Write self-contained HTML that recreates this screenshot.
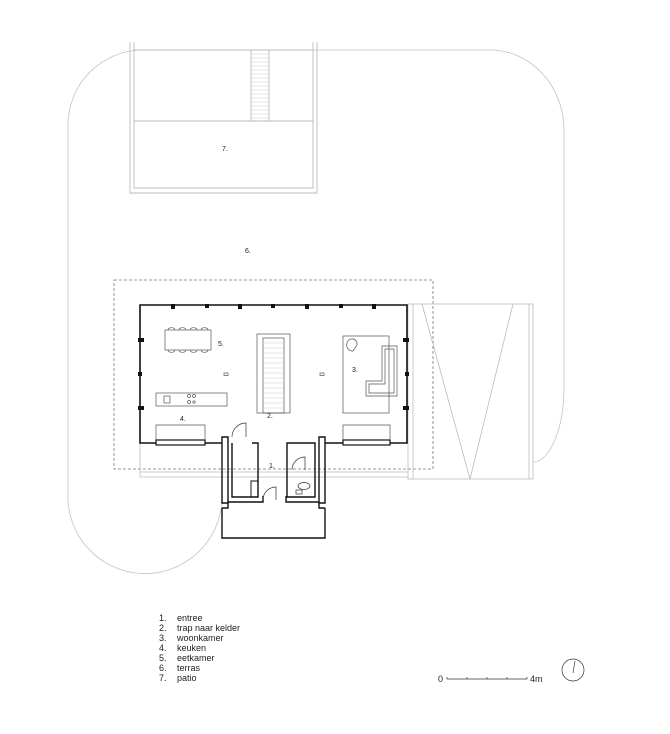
<!DOCTYPE html>
<html><head><meta charset="utf-8"><style>
html,body{margin:0;padding:0;background:#fff;}
svg{display:block;}
text{font-family:"Liberation Sans",sans-serif;fill:#222;}
</style></head><body>
<svg width="670" height="734" viewBox="0 0 670 734" xmlns="http://www.w3.org/2000/svg">
<!-- terrace outline -->
<path d="M68,493 L68,125 A75,75 0 0 1 143,50 L490,50 A74,80 0 0 1 564,130 L564,387 A31,75 0 0 1 533,462" fill="none" stroke="#c4c4c4" stroke-width="0.8"/>
<path d="M68,493 A77,77 0 0 0 222,500" fill="none" stroke="#c4c4c4" stroke-width="0.8"/>
<!-- patio -->
<g fill="none" stroke="#bbb" stroke-width="0.9">
<path d="M130,42 L130,193 L317,193 L317,42"/>
<path d="M134,42 L134,188 L313,188 L313,42"/>
<line x1="134" y1="50" x2="313" y2="50"/>
<line x1="134" y1="121" x2="313" y2="121"/>
<rect x="251" y="50" width="18" height="71"/>
</g>
<g stroke="#ccc" stroke-width="0.6">
<line x1="251" y1="54" x2="269" y2="54"/><line x1="251" y1="58" x2="269" y2="58"/><line x1="251" y1="62" x2="269" y2="62"/><line x1="251" y1="66" x2="269" y2="66"/><line x1="251" y1="70" x2="269" y2="70"/><line x1="251" y1="74" x2="269" y2="74"/><line x1="251" y1="78" x2="269" y2="78"/><line x1="251" y1="82" x2="269" y2="82"/><line x1="251" y1="86" x2="269" y2="86"/><line x1="251" y1="90" x2="269" y2="90"/><line x1="251" y1="94" x2="269" y2="94"/><line x1="251" y1="98" x2="269" y2="98"/><line x1="251" y1="102" x2="269" y2="102"/><line x1="251" y1="106" x2="269" y2="106"/><line x1="251" y1="110" x2="269" y2="110"/><line x1="251" y1="114" x2="269" y2="114"/><line x1="251" y1="118" x2="269" y2="118"/>
</g>
<text x="222" y="151" font-size="7">7.</text>
<text x="245" y="253" font-size="7">6.</text>
<!-- dashed roof -->
<rect x="114" y="280" width="319" height="189" fill="none" stroke="#777" stroke-width="0.8" stroke-dasharray="3,2"/>
<!-- pergola -->
<g fill="none" stroke="#bbb" stroke-width="0.8">
<rect x="408" y="304" width="125" height="175"/>
<line x1="413" y1="304" x2="413" y2="479"/>
<line x1="529" y1="304" x2="529" y2="479"/>
<path d="M422,304 L470,479 L513,304"/>
<line x1="140" y1="472" x2="408" y2="472"/>
<line x1="140" y1="477" x2="408" y2="477"/>
<line x1="140" y1="443" x2="140" y2="477"/>
</g>
<!-- main walls -->
<path d="M222,443 L140,443 L140,305 L407,305 L407,443 L325,443" fill="none" stroke="#111" stroke-width="1.6"/>
<g fill="#111">
<rect x="171" y="304" width="4" height="5"/><rect x="205" y="304" width="4" height="4"/><rect x="238" y="304" width="4" height="5"/><rect x="271" y="304" width="4" height="4"/><rect x="305" y="304" width="4" height="5"/><rect x="339" y="304" width="4" height="4"/><rect x="372" y="304" width="4" height="5"/>
<rect x="138" y="338" width="6" height="4"/><rect x="138" y="372" width="4" height="4"/><rect x="138" y="406" width="6" height="4"/>
<rect x="403" y="338" width="6" height="4"/><rect x="405" y="372" width="4" height="4"/><rect x="403" y="406" width="6" height="4"/>
</g>
<!-- windows -->
<g fill="none" stroke="#111">
<rect x="156" y="440" width="49" height="5" stroke-width="1.2" fill="#fff"/>
<rect x="343" y="440" width="47" height="5" stroke-width="1.2" fill="#fff"/>
</g>
<g fill="none" stroke="#555" stroke-width="0.7">
<path d="M156,440 L156,425 L205,425 L205,440"/>
<path d="M343,440 L343,425 L390,425 L390,440"/>
<rect x="165" y="330" width="46" height="20"/>
<path d="M168,330 a3,2 0 0 1 7,0 M179,330 a3,2 0 0 1 7,0 M190,330 a3,2 0 0 1 7,0 M201,330 a3,2 0 0 1 7,0"/>
<path d="M168,350 a3,2 0 0 0 7,0 M179,350 a3,2 0 0 0 7,0 M190,350 a3,2 0 0 0 7,0 M201,350 a3,2 0 0 0 7,0"/>
<rect x="257" y="334" width="33" height="79"/>
<rect x="263" y="338" width="21" height="75"/>
<rect x="224" y="373" width="4" height="2.5"/><rect x="320" y="373" width="4" height="2.5"/>
<rect x="156" y="393" width="71" height="13"/>
<rect x="164" y="396" width="6" height="7"/>
<circle cx="189" cy="396" r="1.5"/><circle cx="194" cy="396" r="1.5"/><circle cx="189" cy="402" r="1.5"/><circle cx="194" cy="402" r="1.2"/>
<rect x="343" y="336" width="46" height="77"/>
<path d="M382,346 L397,346 L397,396 L366,396 L366,381 L382,381 Z"/>
<path d="M385,349 L394,349 L394,393 L369,393 L369,384 L385,384 Z"/>
<path d="M347,343 a5,5 0 0 1 10,2 l-4,6 a6,6 0 0 1 -6,-8z"/>
</g>
<g stroke="#ccc" stroke-width="0.6">
<line x1="263" y1="343" x2="284" y2="343"/><line x1="263" y1="348" x2="284" y2="348"/><line x1="263" y1="353" x2="284" y2="353"/><line x1="263" y1="358" x2="284" y2="358"/><line x1="263" y1="363" x2="284" y2="363"/><line x1="263" y1="368" x2="284" y2="368"/><line x1="263" y1="373" x2="284" y2="373"/><line x1="263" y1="378" x2="284" y2="378"/><line x1="263" y1="383" x2="284" y2="383"/><line x1="263" y1="388" x2="284" y2="388"/><line x1="263" y1="393" x2="284" y2="393"/><line x1="263" y1="398" x2="284" y2="398"/><line x1="263" y1="403" x2="284" y2="403"/><line x1="263" y1="408" x2="284" y2="408"/>
</g>
<text x="218" y="346" font-size="7">5.</text>
<text x="267" y="418" font-size="7">2.</text>
<text x="352" y="372" font-size="7">3.</text>
<text x="180" y="421" font-size="7">4.</text>
<text x="269" y="468" font-size="7">1.</text>
<!-- entry -->
<g fill="none" stroke="#111" stroke-width="1.4">
<path d="M222,437 L228,437 L228,503 L222,503 Z"/>
<path d="M319,437 L325,437 L325,503 L319,503 Z"/>
<path d="M222,508 L222,538 L325,538 L325,508"/>
<path d="M228,502 L263,502 L263,496 M319,502 L286,502 L286,496"/>
<path d="M222,508 L228,508 L228,503 M325,508 L319,508 L319,503"/>
<path d="M232,443 L232,497 L258,497 L258,443 L252,443"/>
<path d="M287,497 L287,443 L315,443 L315,497 Z"/>
<rect x="251" y="481" width="7" height="16" stroke-width="1"/>
</g>
<g fill="none" stroke="#333" stroke-width="0.7">
<path d="M232,437 a14,14 0 0 1 14,-14 L246,437"/>
<path d="M263,500 a13,13 0 0 1 13,-13 L276,500"/>
<path d="M292,470 a13,13 0 0 1 13,-13 L305,470"/>
<ellipse cx="304" cy="486" rx="6" ry="3.5"/>
<rect x="296" y="490" width="6" height="4"/>
</g>
<!-- legend -->
<g font-size="9">
<text x="159" y="621">1.</text><text x="177" y="621">entree</text>
<text x="159" y="631">2.</text><text x="177" y="631">trap naar kelder</text>
<text x="159" y="641">3.</text><text x="177" y="641">woonkamer</text>
<text x="159" y="651">4.</text><text x="177" y="651">keuken</text>
<text x="159" y="661">5.</text><text x="177" y="661">eetkamer</text>
<text x="159" y="671">6.</text><text x="177" y="671">terras</text>
<text x="159" y="681">7.</text><text x="177" y="681">patio</text>
<text x="438" y="682">0</text><text x="530" y="682">4m</text>
</g>
<g fill="none" stroke="#333" stroke-width="0.7">
<path d="M447,679 L527,679 M467,677 L467,679 M487,677 L487,679 M507,677 L507,679 M447,677 L447,679 M527,677 L527,679"/>
<circle cx="573" cy="670" r="11"/>
<line x1="575" y1="661" x2="573" y2="673"/>
</g>
</svg>
</body></html>
